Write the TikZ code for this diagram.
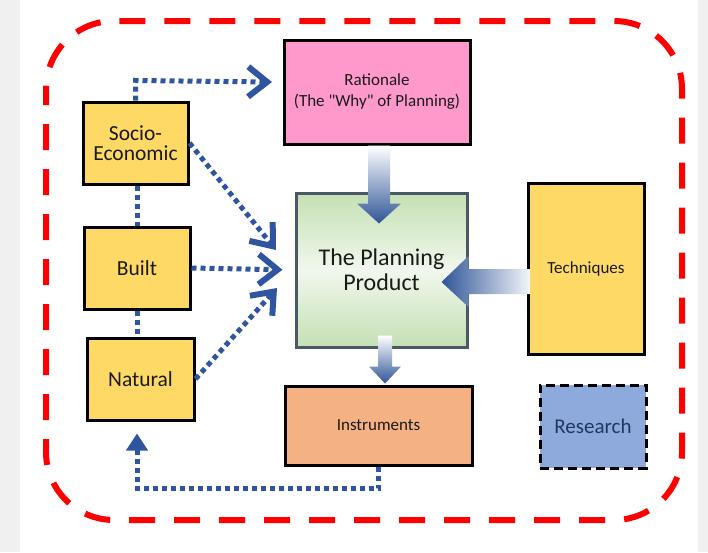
\documentclass[tikz,border=0pt]{standalone}
\usepackage{fontspec}
\setmainfont{Carlito}
\usetikzlibrary{arrows.meta,calc}
\definecolor{boxyellow}{HTML}{FFD966}
\definecolor{boxpink}{HTML}{FF99CC}
\definecolor{boxgreen}{HTML}{C5E0B4}
\definecolor{boxorange}{HTML}{F4B183}
\definecolor{boxblue}{HTML}{8EA9DB}
\definecolor{navy}{HTML}{1F3864}
\definecolor{dotblue}{HTML}{2F55A0}
\definecolor{fatblue}{HTML}{2F5597}
\definecolor{bordergrey}{HTML}{4A5868}
\definecolor{margingrey}{HTML}{F0F0F0}
\definecolor{txt}{HTML}{1A1A1A}
\tikzset{chev/.tip={Straight Barb[length=19pt,width=30pt,line width=6pt]}}
\begin{document}
\begin{tikzpicture}[x=1pt,y=-1pt,
  box/.style={draw=black, line width=3pt, inner sep=0pt, text=txt},
  yel/.style={box, fill=boxyellow, font=\fontsize{21.5}{19.5}\selectfont, align=center},
  smalltext/.style={font=\fontsize{17}{21}\selectfont, align=center},
  dotline/.style={draw=dotblue, line width=5pt, dash pattern=on 5pt off 4pt},
  fatarrow/.style={draw=none}
]
\useasboundingbox (0,0) rectangle (708,552);
\fill[margingrey] (0,0) rectangle (708,552);
\fill[white] (20,0) rectangle (698,552);
% red dashed frame
\draw[red, line width=6pt, dash pattern=on 26pt off 19pt, dash phase=10pt, rounded corners=68pt] (46,21) rectangle (682,520);

% boxes
\node[yel, minimum width=105pt, minimum height=82pt] (socio) at (135.5,143) {Socio-\\Economic};
\node[yel, minimum width=106pt, minimum height=82pt] (built) at (137,268) {Built};
\node[yel, minimum width=107pt, minimum height=82pt] (nat) at (140.5,379) {Natural};
\node[box, smalltext, fill=boxpink, minimum width=186pt, minimum height=104pt] (rat) at (377,92) {Rationale\\(The \textquotedbl Why\textquotedbl\ of Planning)};
\node[box, draw=bordergrey, top color=boxgreen, bottom color=boxgreen, middle color=boxgreen!25,
      font=\fontsize{24}{25}\selectfont, align=center, minimum width=171pt, minimum height=154pt] (plan) at (381.5,270) {The Planning\\Product};
\node[box, smalltext, fill=boxyellow, minimum width=116pt, minimum height=171pt] (tech) at (586,268.5) {Techniques};
\node[box, smalltext, fill=boxorange, minimum width=187pt, minimum height=79pt] (instr) at (378.5,425.5) {Instruments};
\node[box, fill=boxblue, dash pattern=on 9pt off 5pt, text=navy, font=\fontsize{21}{24}\selectfont,
      minimum width=106pt, minimum height=83pt] (res) at (593,426.5) {Research};

% free ends of the dotted arrows
\coordinate (ratin) at (272,82);
\coordinate (planA) at (276,250);
\coordinate (planC) at (277,288);

% dotted connectors
\draw[dotline, -chev] (socio.north) -- ++(0,-20) -- (ratin);
\draw[dotline] (built.north |- socio.south) -- (built.north);
\draw[dotline] (built.south) -- (built.south |- nat.north);
\draw[dotline, -chev] (socio.east) -- (planA);
\draw[dotline, -chev, shorten >=12pt] (built.east) -- (plan.west);
\draw[dotline, -chev] (nat.east) -- (planC);
\draw[dotline, -{Triangle[length=17pt,width=21pt]}, shorten >=12pt]
  (instr.south) -- ++(0,22) -| (built.south |- nat.south);

% fat gradient arrows
\begin{scope}[shift={(rat.south)}]
\shade[fatarrow, top color=white, middle color=fatblue!60, bottom color=fatblue]
  (-9,0) -- (-9,58) -- (-20,58) -- (2,78) -- (24,58) -- (13,58) -- (13,0) -- cycle;
\end{scope}
\begin{scope}[shift={(plan.east)}]
\shade[fatarrow, left color=fatblue, middle color=fatblue!35, right color=fatblue!6]
  (61,-1) -- (0,-1) -- (0,-14) -- (-27,12) -- (0,37) -- (0,24) -- (61,24) -- cycle;
\end{scope}
\begin{scope}[shift={(instr.north)}]
\shade[fatarrow, top color=white, middle color=fatblue!45, bottom color=fatblue]
  (-0.5,-49) -- (-0.5,-18) -- (-9.5,-18) -- (6.5,-1) -- (22.5,-18) -- (13.5,-18) -- (13.5,-49) -- cycle;
\end{scope}
\end{tikzpicture}
\end{document}
